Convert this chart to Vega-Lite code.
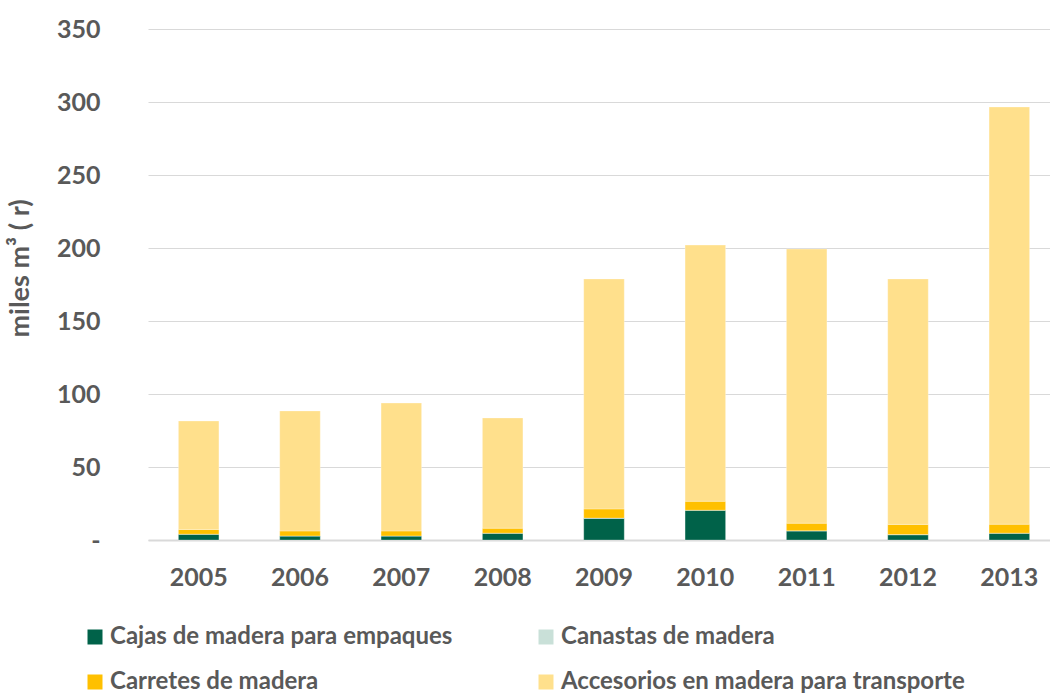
{
  "$schema": "https://vega.github.io/schema/vega-lite/v6.json",
  "width": 912,
  "height": 511,
  "autosize": "none",
  "padding": {"left": 148, "top": 29, "right": 0, "bottom": 155},
  "background": "white",
  "config": {"view": {"stroke": null}, "font": "Lato"},
  "data": {"values": [
    {"año": "2005", "tipo": "Cajas de madera para empaques", "o": 1, "v": 3.9},
    {"año": "2005", "tipo": "Canastas de madera", "o": 2, "v": 0.1},
    {"año": "2005", "tipo": "Carretes de madera", "o": 3, "v": 3.2},
    {"año": "2005", "tipo": "Accesorios en madera para transporte", "o": 4, "v": 74.3},
    {"año": "2006", "tipo": "Cajas de madera para empaques", "o": 1, "v": 2.7},
    {"año": "2006", "tipo": "Canastas de madera", "o": 2, "v": 0.1},
    {"año": "2006", "tipo": "Carretes de madera", "o": 3, "v": 3.4},
    {"año": "2006", "tipo": "Accesorios en madera para transporte", "o": 4, "v": 82.2},
    {"año": "2007", "tipo": "Cajas de madera para empaques", "o": 1, "v": 2.7},
    {"año": "2007", "tipo": "Canastas de madera", "o": 2, "v": 0.1},
    {"año": "2007", "tipo": "Carretes de madera", "o": 3, "v": 3.4},
    {"año": "2007", "tipo": "Accesorios en madera para transporte", "o": 4, "v": 87.6},
    {"año": "2008", "tipo": "Cajas de madera para empaques", "o": 1, "v": 4.6},
    {"año": "2008", "tipo": "Canastas de madera", "o": 2, "v": 0.1},
    {"año": "2008", "tipo": "Carretes de madera", "o": 3, "v": 3.4},
    {"año": "2008", "tipo": "Accesorios en madera para transporte", "o": 4, "v": 75.5},
    {"año": "2009", "tipo": "Cajas de madera para empaques", "o": 1, "v": 14.9},
    {"año": "2009", "tipo": "Canastas de madera", "o": 2, "v": 0.1},
    {"año": "2009", "tipo": "Carretes de madera", "o": 3, "v": 6.3},
    {"año": "2009", "tipo": "Accesorios en madera para transporte", "o": 4, "v": 157.5},
    {"año": "2010", "tipo": "Cajas de madera para empaques", "o": 1, "v": 20.3},
    {"año": "2010", "tipo": "Canastas de madera", "o": 2, "v": 0.1},
    {"año": "2010", "tipo": "Carretes de madera", "o": 3, "v": 6.1},
    {"año": "2010", "tipo": "Accesorios en madera para transporte", "o": 4, "v": 175.5},
    {"año": "2011", "tipo": "Cajas de madera para empaques", "o": 1, "v": 6.2},
    {"año": "2011", "tipo": "Canastas de madera", "o": 2, "v": 0.1},
    {"año": "2011", "tipo": "Carretes de madera", "o": 3, "v": 5.2},
    {"año": "2011", "tipo": "Accesorios en madera para transporte", "o": 4, "v": 187.8},
    {"año": "2012", "tipo": "Cajas de madera para empaques", "o": 1, "v": 3.6},
    {"año": "2012", "tipo": "Canastas de madera", "o": 2, "v": 0.1},
    {"año": "2012", "tipo": "Carretes de madera", "o": 3, "v": 7.0},
    {"año": "2012", "tipo": "Accesorios en madera para transporte", "o": 4, "v": 168.1},
    {"año": "2013", "tipo": "Cajas de madera para empaques", "o": 1, "v": 4.6},
    {"año": "2013", "tipo": "Canastas de madera", "o": 2, "v": 0.1},
    {"año": "2013", "tipo": "Carretes de madera", "o": 3, "v": 6.1},
    {"año": "2013", "tipo": "Accesorios en madera para transporte", "o": 4, "v": 285.8}
  ]},
  "mark": {"type": "bar", "stroke": "white", "strokeOpacity": 0.4, "strokeWidth": 0.7},
  "encoding": {
    "x": {
      "field": "año", "type": "nominal",
      "scale": {"paddingInner": 0.6, "paddingOuter": 0.3},
      "axis": {
        "title": null, "labelAngle": 0, "labelFontSize": 25, "labelFontWeight": "bold",
        "labelColor": "#595959", "labelPadding": 25, "ticks": false,
        "domainColor": "#d9d9d9", "domainWidth": 2
      }
    },
    "y": {
      "field": "v", "type": "quantitative", "stack": "zero",
      "scale": {"domain": [0, 350], "nice": false},
      "axis": {
        "title": "miles m³ ( r)", "titleFontSize": 27, "titleFontWeight": "bold",
        "titleColor": "#595959", "titlePadding": 22, "titleY": 239,
        "values": [0, 50, 100, 150, 200, 250, 300, 350],
        "labelExpr": "datum.value == 0 ? '-' : datum.label",
        "labelFontSize": 25, "labelFontWeight": "bold", "labelColor": "#595959",
        "labelPadding": 48, "ticks": false, "domain": false,
        "gridColor": "#d9d9d9", "gridWidth": 1.2
      }
    },
    "color": {
      "field": "tipo", "type": "nominal",
      "scale": {
        "domain": ["Cajas de madera para empaques", "Canastas de madera", "Carretes de madera", "Accesorios en madera para transporte"],
        "range": ["#006249", "#C9E0D8", "#FFC000", "#FFE08C"]
      },
      "legend": {
        "title": null, "orient": "none", "legendX": -65, "legendY": 596,
        "direction": "horizontal", "columns": 2,
        "symbolType": "square", "symbolSize": 225, "symbolStrokeWidth": 0,
        "labelFontSize": 24, "labelFontWeight": "bold", "labelColor": "#595959",
        "columnPadding": 81, "rowPadding": 21, "labelOffset": 3, "labelLimit": 600
      }
    },
    "order": {"field": "o", "type": "quantitative"}
  }
}
